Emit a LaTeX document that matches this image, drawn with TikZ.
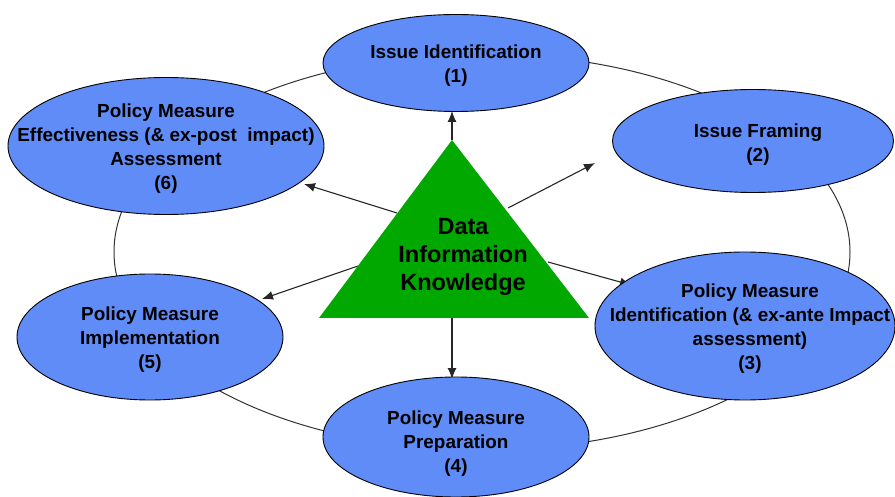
\documentclass[tikz,border=0pt]{standalone}
\usepackage{fontspec}
\setmainfont{Liberation Sans}
\usetikzlibrary{shapes.geometric,arrows.meta}
\definecolor{bubblue}{RGB}{96,140,248}
\definecolor{trigreen}{RGB}{0,168,0}
\definecolor{ringgray}{RGB}{50,50,50}
\tikzset{
  bub/.style={ellipse,draw=black,line width=0.9pt,fill=bubblue,inner sep=0pt},
  txt/.style={align=center,font=\fontsize{18.9}{24}\selectfont\bfseries,inner sep=0pt},
  bigtxt/.style={align=center,font=\fontsize{23.5}{28}\selectfont\bfseries,inner sep=0pt},
  ringstyle/.style={ellipse,draw=ringgray,line width=1pt,inner sep=0pt},
  arr/.style={draw=black!85,line width=1.1pt,-{Latex[length=11pt,width=9pt]}}
}
\begin{document}
\begin{tikzpicture}[x=1pt,y=-1pt]
\useasboundingbox (0,0) rectangle (895,497);
% ring
\node[ringstyle,minimum width=736pt,minimum height=396pt] (ring) at (482,252) {};
% triangle coordinates
\coordinate (ta) at (452,140);
\coordinate (tl) at (319,318);
\coordinate (tr) at (589,318);
% arrow coordinates
\coordinate (s1) at (452,140); \coordinate (t1) at (452,111);
\coordinate (s2) at (508,208); \coordinate (t2) at (595,163);
\coordinate (s3) at (548,262); \coordinate (t3) at (631,285);
\coordinate (s4) at (452,318); \coordinate (t4) at (452,379);
\coordinate (s5) at (358,266); \coordinate (t5) at (262,299);
\coordinate (s6) at (397,213); \coordinate (t6) at (304,184);
\draw[arr] (s1) -- (t1);
\draw[arr] (s2) -- (t2);
\draw[arr] (s3) -- (t3);
\draw[arr] (s4) -- (t4);
\draw[arr] (s5) -- (t5);
\draw[arr] (s6) -- (t6);
\fill[trigreen] (ta) -- (tr) -- (tl) -- cycle;
\node[bigtxt] (dik) at (463,257) {Data\\Information\\Knowledge};
% ellipses
\node[bub,minimum width=266pt,minimum height=97pt] (e1) at (456,63) {};
\node[bub,minimum width=281pt,minimum height=103pt] (e2) at (753,141) {};
\node[bub,minimum width=300pt,minimum height=148pt] (e3) at (745,326) {};
\node[bub,minimum width=266pt,minimum height=120pt] (e4) at (456,437) {};
\node[bub,minimum width=266pt,minimum height=126pt] (e5) at (150,337) {};
\node[bub,minimum width=316pt,minimum height=137pt] (e6) at (166,146) {};
\node[txt] (e1t) at (456,66) {Issue Identification\\(1)};
\node[txt] (e2t) at (758,145) {Issue Framing\\(2)};
\node[txt] (e3t) at (750,329) {Policy Measure\\Identification (\& ex-ante Impact\\assessment)\\(3)};
\node[txt] (e4t) at (456,444) {Policy Measure\\Preparation\\(4)};
\node[txt] (e5t) at (150,340) {Policy Measure\\Implementation\\(5)};
\node[txt] (e6t) at (166,149) {Policy Measure\\Effectiveness (\& ex-post~ impact)\\Assessment\\(6)};
\end{tikzpicture}
\end{document}
